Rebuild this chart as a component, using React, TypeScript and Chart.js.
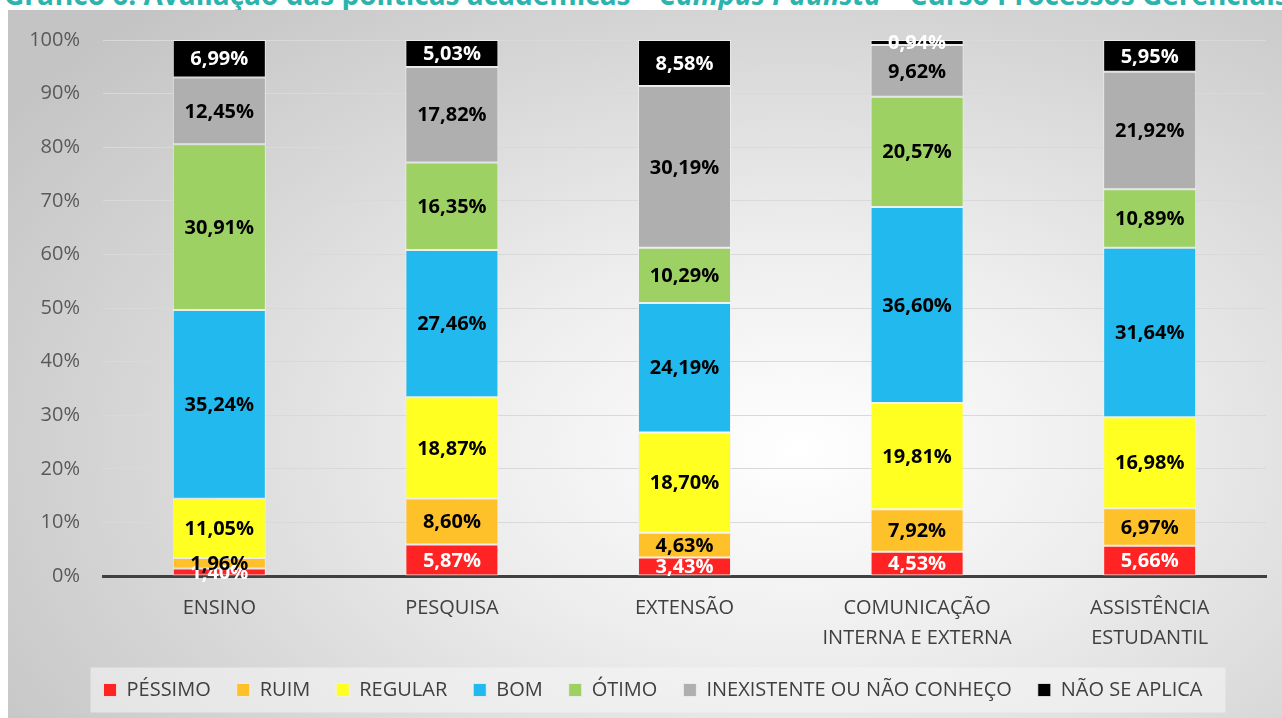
import React, { useEffect, useRef } from 'react';
import { Chart, registerables } from 'chart.js';

Chart.register(...registerables);

const categories: (string | string[])[] = [
  'ENSINO',
  'PESQUISA',
  'EXTENSÃO',
  ['COMUNICAÇÃO', 'INTERNA E EXTERNA'],
  ['ASSISTÊNCIA', 'ESTUDANTIL'],
];
const seriesNames = ['PÉSSIMO', 'RUIM', 'REGULAR', 'BOM', 'ÓTIMO', 'INEXISTENTE OU NÃO CONHEÇO', 'NÃO SE APLICA'];
const pessimo = [1.4, 5.87, 3.43, 4.53, 5.66];
const ruim = [1.96, 8.6, 4.63, 7.92, 6.97];
const regular = [11.05, 18.87, 18.7, 19.81, 16.98];
const bom = [35.24, 27.46, 24.19, 36.6, 31.64];
const otimo = [30.91, 16.35, 10.29, 20.57, 10.89];
const inexistente = [12.45, 17.82, 30.19, 9.62, 21.92];
const naoSeAplica = [6.99, 5.03, 8.58, 0.94, 5.95];
const yTickStep = 10;
const yMax = 100;

const seriesValues = [pessimo, ruim, regular, bom, otimo, inexistente, naoSeAplica];
const seriesColors = ['#FF2323', '#FFC12A', '#FFFF22', '#22B9EE', '#9DD163', '#AFAFAF', '#000000'];
const labelColors = ['#FFFFFF', '#000000', '#000000', '#000000', '#000000', '#000000', '#FFFFFF'];

const FONT = '"Open Sans", "Noto Sans", sans-serif';

const fmt = (v: number) => v.toFixed(2).replace('.', ',') + '%';

const dataLabelPlugin = {
  id: 'dataLabels',
  afterDatasetsDraw(chart: any) {
    const ctx = chart.ctx;
    ctx.save();
    ctx.font = `bold 20px ${FONT}`;
    ctx.textAlign = 'center';
    ctx.textBaseline = 'middle';
    chart.data.datasets.forEach((ds: any, di: number) => {
      const meta = chart.getDatasetMeta(di);
      meta.data.forEach((el: any, i: number) => {
        const v = ds.data[i];
        ctx.fillStyle = labelColors[di];
        ctx.fillText(fmt(v), el.x, (el.y + el.base) / 2 + 1);
      });
    });
    ctx.restore();
  },
};

const legendShiftPlugin = {
  id: 'legendShift',
  afterLayout(chart: any) {
    const lg = chart.legend;
    if (!lg) return;
    lg.left += 16;
    lg.right += 16;
  },
};

const legendBgPlugin = {
  id: 'legendBg',
  beforeDraw(chart: any) {
    const lg = chart.legend;
    if (!lg || !lg.legendHitBoxes || !lg.legendHitBoxes.length) return;
    const boxes = lg.legendHitBoxes;
    let l = Infinity, r = -Infinity, t = Infinity, b = -Infinity;
    boxes.forEach((h: any) => {
      l = Math.min(l, h.left);
      r = Math.max(r, h.left + h.width);
      t = Math.min(t, h.top);
      b = Math.max(b, h.top + h.height);
    });
    const cy = (t + b) / 2;
    const ctx = chart.ctx;
    ctx.save();
    ctx.fillStyle = 'rgba(245,245,245,0.6)';
    ctx.fillRect(l - 13, cy - 22.5, r - l + 36, 45);
    ctx.restore();
  },
};

export default function App() {
  const ref = useRef<HTMLCanvasElement>(null);
  useEffect(() => {
    if (!ref.current) return;
    const chart = new Chart(ref.current, {
      type: 'bar',
      data: {
        labels: categories,
        datasets: seriesNames.map((name, k) => ({
          label: name,
          data: seriesValues[k],
          backgroundColor: seriesColors[k],
          borderColor: 'rgba(240,240,240,0.8)',
          borderWidth: 1,
          borderSkipped: false,
          barPercentage: 0.4,
          categoryPercentage: 1,
        })),
      },
      options: {
        responsive: false,
        animation: false,
        layout: { padding: { left: 0, right: 16, top: 30, bottom: 8 } },
        plugins: {
          tooltip: { enabled: false },
          legend: {
            position: 'bottom',
            labels: {
              boxWidth: 13,
              boxHeight: 13,
              padding: 26,
              color: '#404040',
              font: { family: FONT, size: 20 },
            },
          },
        },
        scales: {
          x: {
            stacked: true,
            grid: { display: false, drawTicks: false },
            border: { display: true, color: '#404040', width: 3 },
            ticks: {
              color: '#404040',
              font: { family: FONT, size: 20, lineHeight: 1.5 },
              padding: 17,
              maxRotation: 0,
              autoSkip: false,
            },
            afterFit: (s: any) => {
              s.height = 78;
            },
          },
          y: {
            stacked: true,
            min: 0,
            max: yMax,
            grid: { color: '#D9D9D9', lineWidth: 1, drawTicks: false },
            border: { display: false },
            ticks: {
              stepSize: yTickStep,
              color: '#595959',
              font: { family: FONT, size: 20 },
              padding: 23,
              callback: (v: any) => v + '%',
            },
            afterFit: (s: any) => {
              s.width = 95;
              s.paddingTop = 0;
            },
          },
        },
      },
      plugins: [dataLabelPlugin, legendShiftPlugin, legendBgPlugin],
    });
    return () => chart.destroy();
  }, []);

  return (
    <div style={{ position: 'fixed', left: 0, top: 0, width: 1282, height: 718, overflow: 'hidden', background: '#ffffff' }}>
      <div
        style={{
          position: 'absolute',
          left: 4,
          top: -21,
          whiteSpace: 'nowrap',
          fontFamily: FONT,
          fontWeight: 'bold',
          fontSize: 28,
          lineHeight: '30px',
          color: '#2BB3AE',
        }}
      >
        Gráfico 6: Avaliação das políticas acadêmicas – <i>Campus Paulista</i> – Curso Processos Gerenciais
      </div>
      <div
        style={{
          position: 'absolute',
          left: 8,
          top: 10,
          width: 1274,
          height: 708,
          background:
            'radial-gradient(ellipse 75% 85% at 62% 62%, #ffffff 0%, #ededed 35%, #d6d6d6 70%, #c4c4c4 100%)',
        }}
      >
        <canvas ref={ref} width={1274} height={708} style={{ display: 'block', width: 1274, height: 708 }} />
      </div>
    </div>
  );
}
